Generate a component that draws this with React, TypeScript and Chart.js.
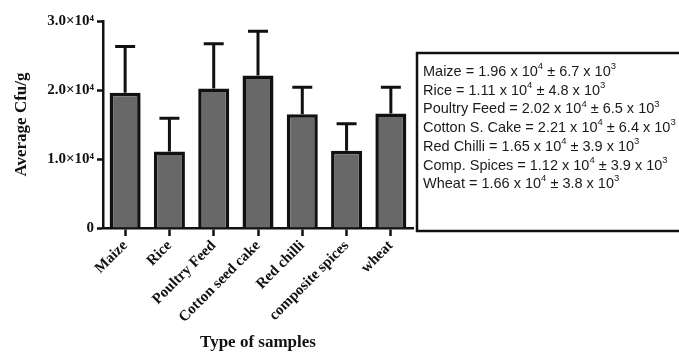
import React, { useEffect, useRef } from "react";
import { Chart, registerables } from "chart.js";
Chart.register(...registerables);

const categories = ["Maize", "Rice", "Poultry Feed", "Cotton seed cake", "Red chilli", "composite spices", "wheat"];
const meanValues = [19600, 11100, 20200, 22100, 16500, 11200, 16600];
const sdValues = [6700, 4800, 6500, 6400, 3900, 3900, 3800];
const legendNames = ["Maize", "Rice", "Poultry Feed", "Cotton S. Cake", "Red Chilli", "Comp. Spices", "Wheat"];
const yTicks = [0, 10000, 20000, 30000];

const SERIF = "'Liberation Serif', 'Times New Roman', serif";
const SANS = "'Liberation Sans', Arial, sans-serif";

const errorBarPlugin = {
  id: "errorBars",
  afterDatasetsDraw(chart: any) {
    const ctx = chart.ctx;
    const meta = chart.getDatasetMeta(0);
    const y = chart.scales.y;
    ctx.save();
    ctx.strokeStyle = "#111";
    ctx.lineWidth = 3;
    meta.data.forEach((bar: any, i: number) => {
      const top = y.getPixelForValue(meanValues[i] + sdValues[i]);
      ctx.beginPath();
      ctx.moveTo(bar.x, bar.y);
      ctx.lineTo(bar.x, top);
      ctx.moveTo(bar.x - 10, top);
      ctx.lineTo(bar.x + 10, top);
      ctx.stroke();
    });
    ctx.restore();
  },
};

const legendBoxPlugin = {
  id: "legendBox",
  afterDraw(chart: any) {
    const ctx = chart.ctx;
    ctx.save();
    ctx.strokeStyle = "#111";
    ctx.lineWidth = 2.5;
    ctx.strokeRect(417, 53, 300, 178);
    ctx.fillStyle = "#1a1a1a";
    ctx.textBaseline = "middle";
    const startX = 423;
    const startY = 72;
    const step = 18.7;
    legendNames.forEach((name, i) => {
      const parts = [
        { t: `${name} = ${(meanValues[i] / 1e4).toFixed(2)} x 10`, sup: false },
        { t: "4", sup: true },
        { t: ` \u00b1 ${(sdValues[i] / 1e3).toFixed(1)} x 10`, sup: false },
        { t: "3", sup: true },
      ];
      let x = startX;
      const yy = startY + i * step;
      parts.forEach((p) => {
        ctx.font = p.sup ? `9.5px ${SANS}` : `14.5px ${SANS}`;
        ctx.fillText(p.t, x, p.sup ? yy - 5.5 : yy);
        x += ctx.measureText(p.t).width;
      });
    });
    ctx.restore();
  },
};

export default function App() {
  const ref = useRef<HTMLCanvasElement>(null);
  useEffect(() => {
    const chart = new Chart(ref.current!, {
      type: "bar",
      data: {
        labels: categories,
        datasets: [
          {
            data: meanValues,
            backgroundColor: "#686868",
            borderColor: "#111",
            borderWidth: 3.5,
            barPercentage: 0.7,
            categoryPercentage: 1,
          },
        ],
      },
      options: {
        responsive: false,
        animation: false,
        layout: { padding: { top: 21, right: 266, left: 0, bottom: 0 } },
        plugins: { legend: { display: false }, tooltip: { enabled: false } },
        scales: {
          x: {
            grid: { display: true, drawOnChartArea: false, drawTicks: true, tickLength: 8, tickWidth: 2.5, tickColor: "#111", offset: false },
            border: { display: true, color: "#111", width: 2.5 },
            ticks: { color: "#111", font: { family: SERIF, size: 15, weight: "bold" }, maxRotation: 45, minRotation: 45, padding: 1 },
            title: { display: true, text: "Type of samples", color: "#111", font: { family: SERIF, size: 17, weight: "bold" }, padding: { top: 0, bottom: 3 } },
            afterFit(scale: any) {
              scale.height = 128;
            },
          },
          y: {
            min: 0,
            max: 30000,
            grid: { display: true, drawOnChartArea: false, drawTicks: true, tickLength: 6, tickWidth: 2.5, tickColor: "#111" },
            border: { display: true, color: "#111", width: 2.5 },
            afterBuildTicks(scale: any) {
              scale.ticks = yTicks.map((v) => ({ value: v }));
            },
            ticks: {
              color: "#111",
              padding: 3,
              font: { family: SERIF, size: 15, weight: "bold" },
              callback: (v: any) => (Number(v) === 0 ? "0" : `${(Number(v) / 1e4).toFixed(1)}\u00d710\u2074`),
            },
            title: { display: true, text: "Average Cfu/g", color: "#111", font: { family: SERIF, size: 17, weight: "bold" }, padding: { top: 11, bottom: 0 } },
            afterFit(scale: any) {
              scale.width = 103;
            },
          },
        },
      },
      plugins: [errorBarPlugin, legendBoxPlugin],
    });
    return () => chart.destroy();
  }, []);
  return (
    <div style={{ position: "absolute", left: 0, top: 0, width: 679, height: 356, background: "#fff" }}>
      <canvas ref={ref} width={679} height={356} />
    </div>
  );
}
